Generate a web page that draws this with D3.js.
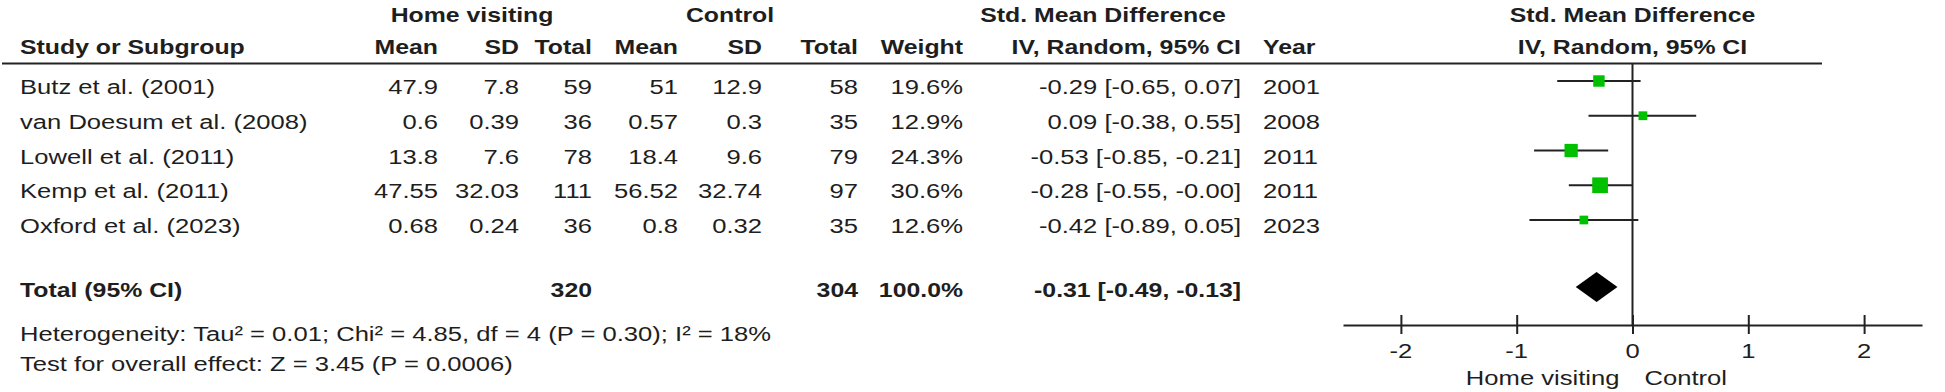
<!DOCTYPE html>
<html>
<head>
<meta charset="utf-8">
<script src="https://cdn.jsdelivr.net/npm/d3@7"></script>
<style>
  body { margin: 0; background: #fff; }
  svg text { font-family: "Liberation Sans", Arial, sans-serif; fill: #1e1e1e; }
</style>
</head>
<body>
<svg id="forest"></svg>
<script>
const studies = ["Butz et al. (2001)", "van Doesum et al. (2008)", "Lowell et al. (2011)", "Kemp et al. (2011)", "Oxford et al. (2023)"];
const hvMean = ["47.9", "0.6", "13.8", "47.55", "0.68"];
const hvSD = ["7.8", "0.39", "7.6", "32.03", "0.24"];
const hvN = [59, 36, 78, 111, 36];
const ctlMean = ["51", "0.57", "18.4", "56.52", "0.8"];
const ctlSD = ["12.9", "0.3", "9.6", "32.74", "0.32"];
const ctlN = [58, 35, 79, 97, 35];
const weights = [19.6, 12.9, 24.3, 30.6, 12.6];
const smd = [-0.29, 0.09, -0.53, -0.28, -0.42];
const ciLow = [-0.65, -0.38, -0.85, -0.55, -0.89];
const ciHigh = [0.07, 0.55, -0.21, -0.00, 0.05];
const years = [2001, 2008, 2011, 2011, 2023];

const totalHv = 320, totalCtl = 304, totalWeight = 100.0;
const pooled = { est: -0.31, lo: -0.49, hi: -0.13 };
const hetText = "Heterogeneity: Tau\u00b2 = 0.01; Chi\u00b2 = 4.85, df = 4 (P = 0.30); I\u00b2 = 18%";
const testText = "Test for overall effect: Z = 3.45 (P = 0.0006)";
const axisTicks = [-2, -1, 0, 1, 2];
const favours = ["Home visiting", "Control"];

const W = 1945, H = 392;
const FS = 20, SX = 1.28;   // text in the picture is stretched sideways

const svg = d3.select("#forest").attr("width", W).attr("height", H);

function label(x, y, s, anchor = "start", bold = false) {
    svg.append("text")
        .attr("transform", `translate(${x},${y}) scale(${bold ? SX * 0.97 : SX},1)`)
        .attr("text-anchor", anchor)
        .attr("font-size", FS)
        .attr("font-weight", bold ? "bold" : "normal")
        .text(s);
}

// signed 2 decimals, keeps "-0.00"
const f2 = v => (v < 0 || Object.is(v, -0) ? "-" : "") + Math.abs(v).toFixed(2);
const ci = (e, l, h) => `${f2(e)} [${f2(l)}, ${f2(h)}]`;

// scales
const x = d3.scaleLinear().domain([-2.5, 2.5]).range([1343, 1922]);
const y = d3.scalePoint().domain(studies).range([81, 220]);
const box = d3.scaleLinear().domain([12.6, 30.6]).range([8.7, 15.7]);
const axisY = 325;

// column anchors
const col = { name: 20, hvMean: 438, hvSD: 519, hvN: 592, cMean: 678, cSD: 762, cN: 858,
              weight: 963, ci: 1241, year: 1263 };

// headers
label(472, 22, "Home visiting", "middle", true);
label(730, 22, "Control", "middle", true);
label(1103, 22, "Std. Mean Difference", "middle", true);
label(x(0), 22, "Std. Mean Difference", "middle", true);

label(col.name, 54, "Study or Subgroup", "start", true);
label(col.hvMean, 54, "Mean", "end", true);
label(col.hvSD, 54, "SD", "end", true);
label(col.hvN, 54, "Total", "end", true);
label(col.cMean, 54, "Mean", "end", true);
label(col.cSD, 54, "SD", "end", true);
label(col.cN, 54, "Total", "end", true);
label(col.weight, 54, "Weight", "end", true);
label(col.ci, 54, "IV, Random, 95% CI", "end", true);
label(col.year, 54, "Year", "start", true);
label(x(0), 54, "IV, Random, 95% CI", "middle", true);

svg.append("line")
    .attr("x1", 2).attr("x2", 1822)
    .attr("y1", 63.5).attr("y2", 63.5)
    .attr("stroke", "#222").attr("stroke-width", 2);

// study rows
studies.forEach((s, i) => {
    const ty = y(s) + 13;
    label(col.name, ty, s);
    label(col.hvMean, ty, hvMean[i], "end");
    label(col.hvSD, ty, hvSD[i], "end");
    label(col.hvN, ty, hvN[i], "end");
    label(col.cMean, ty, ctlMean[i], "end");
    label(col.cSD, ty, ctlSD[i], "end");
    label(col.cN, ty, ctlN[i], "end");
    label(col.weight, ty, weights[i].toFixed(1) + "%", "end");
    label(col.ci, ty, ci(smd[i], ciLow[i], ciHigh[i]), "end");
    label(col.year, ty, years[i]);
});

// totals
const totY = 297;
label(col.name, totY, "Total (95% CI)", "start", true);
label(col.hvN, totY, totalHv, "end", true);
label(col.cN, totY, totalCtl, "end", true);
label(col.weight, totY, totalWeight.toFixed(1) + "%", "end", true);
label(col.ci, totY, ci(pooled.est, pooled.lo, pooled.hi), "end", true);
label(col.name, 341, hetText);
label(col.name, 371, testText);

// forest plot
const plot = svg.append("g");

plot.append("line")
    .attr("x1", x(0)).attr("x2", x(0))
    .attr("y1", 64).attr("y2", axisY)
    .attr("stroke", "#222").attr("stroke-width", 2);

plot.selectAll(".ci-line")
    .data(studies)
    .join("line")
    .attr("class", "ci-line")
    .attr("x1", (d, i) => x(ciLow[i]))
    .attr("x2", (d, i) => x(ciHigh[i]))
    .attr("y1", d => y(d)).attr("y2", d => y(d))
    .attr("stroke", "#222").attr("stroke-width", 2);

plot.selectAll(".box")
    .data(studies)
    .join("rect")
    .attr("class", "box")
    .attr("x", (d, i) => x(smd[i]) - box(weights[i]) / 2)
    .attr("y", (d, i) => y(d) - box(weights[i]) / 2)
    .attr("width", (d, i) => box(weights[i]))
    .attr("height", (d, i) => box(weights[i]))
    .attr("fill", "#00c000");

const dy = 287, dh = 15;
plot.append("path")
    .attr("d", `M${x(pooled.lo)},${dy} L${x(pooled.est)},${dy - dh} L${x(pooled.hi)},${dy} L${x(pooled.est)},${dy + dh} Z`)
    .attr("fill", "#000");

const axis = plot.append("g")
    .attr("transform", `translate(0,${axisY})`)
    .call(d3.axisBottom(x).tickValues(axisTicks).tickSizeOuter(0));

axis.select(".domain").attr("stroke", "#222").attr("stroke-width", 2);
axis.selectAll(".tick line").attr("y1", -10).attr("y2", 9).attr("stroke", "#222").attr("stroke-width", 2);
axis.selectAll(".tick text").remove();

axisTicks.forEach(t => label(x(t), axisY + 33, String(t), "middle"));

label(x(0) - 13, 385, favours[0], "end");
label(x(0) + 12, 385, favours[1], "start");
</script>
</body>
</html>
